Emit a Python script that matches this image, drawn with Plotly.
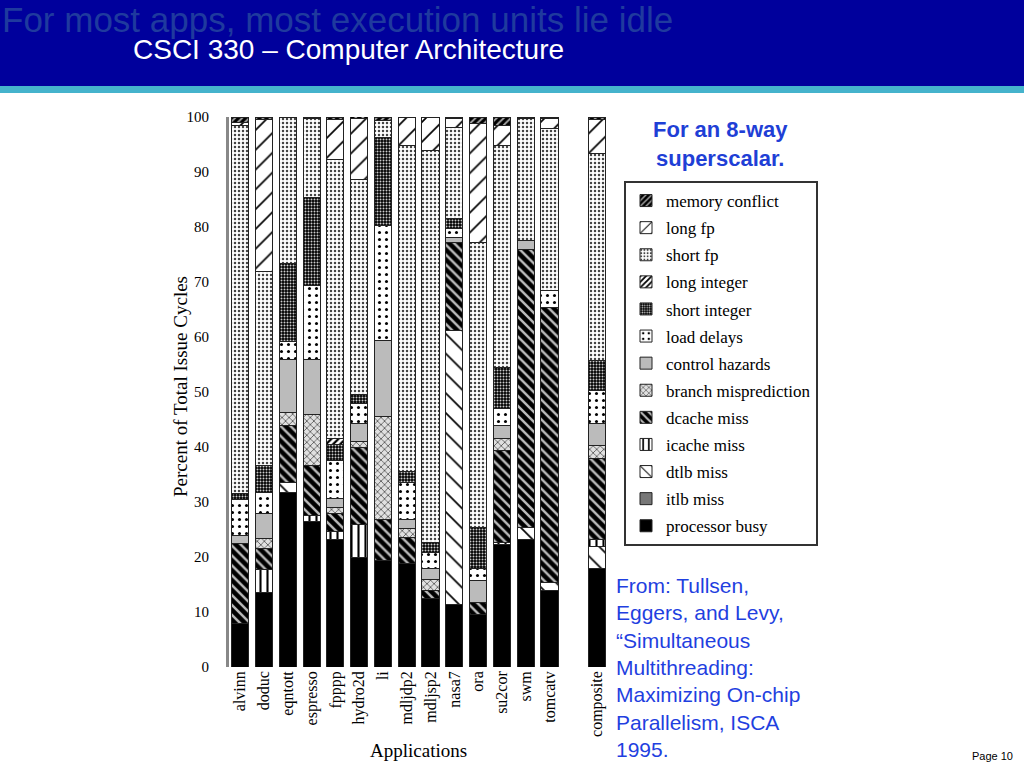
import plotly.graph_objects as go

apps = ["alvinn", "doduc", "eqntott", "espresso", "fpppp", "hydro2d", "li", "mdljdp2",
        "mdljsp2", "nasa7", "ora", "su2cor", "swm", "tomcatv", "composite"]

processor_busy = [8.0, 13.5, 31.8, 26.4, 23.1, 19.9, 19.3, 18.9, 12.4, 11.3, 9.5, 22.2, 23.1, 14.0, 18.0]
itlb_miss      = [0, 0, 0, 0, 0, 0, 0, 0, 0, 0, 0, 0, 0, 0, 0]
dtlb_miss      = [0, 0, 1.8, 0, 0, 0, 0, 0, 0, 49.9, 0, 0, 2.2, 1.3, 4.0]
icache_miss    = [0, 4.3, 0, 1.1, 1.5, 6.1, 0, 0, 0, 0, 0, 0.5, 0, 0, 1.1]
dcache_miss    = [14.5, 3.7, 10.3, 9.1, 3.4, 13.9, 7.6, 4.6, 1.6, 16.0, 2.2, 16.6, 50.6, 50.1, 14.8]
branch_mispred = [0, 1.8, 2.4, 9.3, 1.0, 1.1, 18.6, 1.6, 2.0, 0, 0, 2.2, 0, 0, 2.3]
control_haz    = [1.5, 4.7, 9.6, 10.1, 1.6, 3.3, 13.8, 1.8, 2.0, 0.9, 4.0, 2.4, 1.7, 0, 4.1]
load_delays    = [6.5, 3.8, 3.3, 13.4, 6.9, 3.6, 21.0, 6.6, 2.8, 1.6, 2.3, 3.1, 0, 3.1, 6.0]
short_integer  = [1.0, 4.9, 14.1, 16.0, 2.9, 1.6, 16.0, 2.0, 1.8, 1.8, 7.3, 7.5, 0, 0, 5.5]
long_integer   = [0, 0, 0, 0, 1.1, 0, 0, 0, 0, 0, 0, 0, 0, 0, 0]
short_fp       = [67.0, 35.2, 26.6, 14.4, 50.7, 39.2, 3.1, 59.4, 71.4, 16.6, 51.9, 40.4, 22.2, 29.5, 37.6]
long_fp        = [0.5, 27.6, 0, 0, 7.3, 11.1, 0, 5.1, 6.0, 1.6, 21.7, 3.6, 0, 1.7, 6.2]
memory_conflict = [1.0, 0.5, 0, 0.2, 0.5, 0.3, 0.6, 0, 0, 0.3, 1.1, 1.5, 0.2, 0.3, 0.4]

y_ticks = [0, 10, 20, 30, 40, 50, 60, 70, 80, 90, 100]

# x positions: one slot per app, composite separated by a one-slot gap
xpos = [i for i in range(len(apps) - 1)] + [len(apps)]

series = [
    ("processor busy", processor_busy, dict(color="black")),
    ("itlb miss", itlb_miss, dict(color="#777777")),
    ("dtlb miss", dtlb_miss, dict(color="white", pattern=dict(shape="\\", bgcolor="white", fgcolor="black", size=14, solidity=0.12, fillmode="replace"))),
    ("icache miss", icache_miss, dict(color="white", pattern=dict(shape="|", bgcolor="white", fgcolor="black", size=7, solidity=0.3, fillmode="replace"))),
    ("dcache miss", dcache_miss, dict(color="black", pattern=dict(shape="\\", bgcolor="black", fgcolor="#bbbbbb", size=7, solidity=0.35, fillmode="replace"))),
    ("branch misprediction", branch_mispred, dict(color="#dddddd", pattern=dict(shape="x", bgcolor="#e0e0e0", fgcolor="#555555", size=5, solidity=0.3, fillmode="replace"))),
    ("control hazards", control_haz, dict(color="#bbbbbb")),
    ("load delays", load_delays, dict(color="white", pattern=dict(shape=".", bgcolor="white", fgcolor="black", size=7, solidity=0.15, fillmode="replace"))),
    ("short integer", short_integer, dict(color="black", pattern=dict(shape=".", bgcolor="black", fgcolor="#cccccc", size=3, solidity=0.35, fillmode="replace"))),
    ("long integer", long_integer, dict(color="white", pattern=dict(shape="/", bgcolor="white", fgcolor="black", size=5, solidity=0.45, fillmode="replace"))),
    ("short fp", short_fp, dict(color="white", pattern=dict(shape=".", bgcolor="white", fgcolor="#444444", size=4, solidity=0.3, fillmode="replace"))),
    ("long fp", long_fp, dict(color="white", pattern=dict(shape="/", bgcolor="white", fgcolor="black", size=14, solidity=0.12, fillmode="replace"))),
    ("memory conflict", memory_conflict, dict(color="black", pattern=dict(shape="/", bgcolor="black", fgcolor="#aaaaaa", size=5, solidity=0.35, fillmode="replace"))),
]

fig = go.Figure()
n = len(series)
for i, (name, vals, mk) in enumerate(series):
    mk = dict(mk)
    mk["line"] = dict(color="#222222", width=1)
    fig.add_trace(go.Bar(
        x=xpos, y=[v if v else None for v in vals], name=name,
        legendgroup=name, legendrank=1000 + (n - i), marker=mk, width=0.72,
    ))

W, H = 1024, 768
def px_x(p):
    return p / W
def px_y(p):
    return 1 - p / H

serif = "Liberation Serif, Times New Roman, serif"

fig.update_layout(
    width=W, height=H, autosize=False,
    margin=dict(l=0, r=0, t=0, b=0, pad=0, autoexpand=False),
    paper_bgcolor="white", plot_bgcolor="white",
    barmode="stack", bargap=0.28,
    showlegend=True,
    legend=dict(
        x=px_x(624), y=px_y(181), xanchor="left", yanchor="top",
        traceorder="grouped", bordercolor="#333333", borderwidth=2,
        bgcolor="white", font=dict(family=serif, size=17, color="black"),
        itemwidth=30, tracegroupgap=2,
    ),
    xaxis=dict(
        domain=[px_x(229), px_x(609)], range=[-0.47, 15.5],
        tickmode="array", tickvals=xpos, ticktext=apps, tickangle=-90,
        tickfont=dict(family=serif, size=16, color="black"),
        showgrid=False, zeroline=False, showline=False, ticks="", automargin=False,
    ),
    yaxis=dict(
        domain=[px_y(667), px_y(117)], range=[0, 100],
        tickmode="array", tickvals=y_ticks, ticktext=[str(t) for t in y_ticks],
        tickfont=dict(family=serif, size=15, color="black"),
        showgrid=False, zeroline=False, showline=True, linecolor="#888888", linewidth=3,
        ticks="", ticklabelstandoff=14, automargin=False,
    ),
    shapes=[
        dict(type="rect", xref="paper", yref="paper", x0=0, x1=1, y0=px_y(86), y1=1,
             fillcolor="#00009c", line=dict(width=0), layer="below"),
        dict(type="rect", xref="paper", yref="paper", x0=0, x1=1, y0=px_y(93), y1=px_y(86),
             fillcolor="#45b3cc", line=dict(width=0), layer="below"),
    ],
)

ann = [
    dict(text="For most apps, most execution units lie idle", x=px_x(0), y=px_y(19),
         xanchor="left", yanchor="middle",
         font=dict(family="Liberation Sans Narrow, Arial Narrow, Liberation Sans", size=35, color="#1f3a9e")),
    dict(text="CSCI 330 – Computer Architecture", x=px_x(131), y=px_y(50),
         xanchor="left", yanchor="middle",
         font=dict(family="Liberation Sans Narrow, Arial Narrow, Liberation Sans", size=28, color="white")),
    dict(text="<b>For an 8-way<br>superscalar.</b>", x=px_x(720), y=px_y(144),
         xanchor="center", yanchor="middle", align="center",
         font=dict(family="Liberation Sans, Arial", size=22, color="#1f3fd6")),
    dict(text="From: Tullsen,<br>Eggers, and Levy,<br>“Simultaneous<br>Multithreading:<br>Maximizing On-chip<br>Parallelism, ISCA<br>1995.",
         x=px_x(614), y=px_y(667), xanchor="left", yanchor="middle", align="left",
         font=dict(family="Liberation Sans, Arial", size=21, color="#1f3fe0")),
    dict(text="Page 10", x=px_x(1015), y=px_y(756), xanchor="right", yanchor="middle",
         font=dict(family="Liberation Sans, Arial", size=11, color="black")),
    dict(text="Percent of Total Issue Cycles", x=px_x(180), y=px_y(387), textangle=-90,
         xanchor="center", yanchor="middle",
         font=dict(family=serif, size=19, color="black")),
    dict(text="Applications", x=px_x(418), y=px_y(750), xanchor="center", yanchor="middle",
         font=dict(family=serif, size=19, color="black")),
]
for a in ann:
    a.update(xref="paper", yref="paper", showarrow=False)
fig.update_layout(annotations=ann)

fig.write_html(
    "out.html",
    config={"displayModeBar": False, "responsive": False},
    post_script=(
        "document.documentElement.style.margin='0';"
        "document.body.style.margin='0';document.body.style.padding='0';"
        "document.documentElement.style.overflow='hidden';"
        "var gd=document.getElementById('{plot_id}');"
        "gd.style.position='fixed';gd.style.top='0px';gd.style.left='0px';"
    ),
)
